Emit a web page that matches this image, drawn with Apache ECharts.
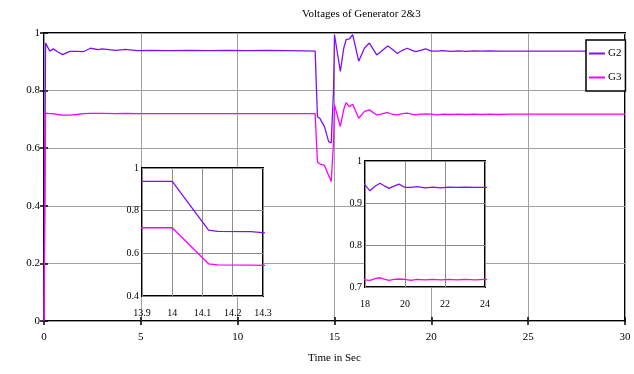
<!DOCTYPE html>
<html>
<head>
<meta charset="utf-8">
<script src="https://cdn.jsdelivr.net/npm/echarts@6/dist/echarts.min.js"></script>
<style>
  html, body { margin: 0; padding: 0; background: #fff; }
  #chart { width: 634px; height: 374px; }
</style>
</head>
<body>
<div id="chart"></div>
<script>
// Simulation time (s)
const times = [0, 0.08, 0.17, 0.3, 0.48, 0.7, 0.96, 1.34, 1.7, 2.03, 2.4, 2.8, 3.0, 3.7, 4.2, 4.8,
  5.5, 6.5, 7.5, 8.5, 9.5, 10.5, 11.5, 12.5, 13.5, 14.0, 14.12, 14.15, 14.26, 14.48, 14.7, 14.83,
  14.9, 14.95, 15.0, 15.1, 15.3, 15.48, 15.6, 15.77, 15.94, 16.25, 16.55, 16.8, 17.18, 17.75,
  18.0, 18.25, 18.5, 18.75, 19.0, 19.2, 19.45, 19.7, 20.0, 20.3, 20.6, 21.0, 21.4, 21.8, 22.2,
  22.6, 23.0, 23.5, 24.0, 26.0, 28.0, 30.0];

// Generator 2 terminal voltage (pu)
const g2 = [0, 0.965, 0.962, 0.937, 0.945, 0.935, 0.925, 0.936, 0.936, 0.935, 0.947, 0.942, 0.945, 0.94, 0.943, 0.939,
  0.94, 0.939, 0.94, 0.939, 0.94, 0.939, 0.94, 0.939, 0.938, 0.937, 0.709, 0.703, 0.702, 0.675, 0.623, 0.618,
  0.62, 0.8, 0.994, 0.989, 0.867, 0.948, 0.977, 0.98, 0.994, 0.902, 0.948, 0.965, 0.924, 0.955,
  0.943, 0.929, 0.94, 0.947, 0.94, 0.935, 0.94, 0.945, 0.937, 0.937, 0.939, 0.936, 0.938, 0.936, 0.938,
  0.937, 0.938, 0.937, 0.937, 0.937, 0.937, 0.937];

// Generator 3 terminal voltage (pu)
const g3 = [0, 0.722, 0.722, 0.72, 0.72, 0.717, 0.715, 0.715, 0.717, 0.72, 0.721, 0.721, 0.721, 0.72, 0.721, 0.72,
  0.72, 0.72, 0.72, 0.72, 0.72, 0.72, 0.72, 0.72, 0.72, 0.72, 0.551, 0.546, 0.545, 0.54, 0.505, 0.484,
  0.482, 0.62, 0.75, 0.745, 0.675, 0.735, 0.758, 0.744, 0.753, 0.704, 0.728, 0.733, 0.715, 0.724,
  0.717, 0.716, 0.72, 0.722, 0.718, 0.716, 0.718, 0.719, 0.718, 0.716, 0.718, 0.717, 0.718, 0.717, 0.718,
  0.717, 0.718, 0.717, 0.718, 0.718, 0.718, 0.718];

const seriesNames = ['G2', 'G3'];
const seriesColors = ['#7f10f5', '#ff00ff'];

// Axis ranges: main view and the two zoomed insets
const mainX = [0, 30, 5];
const mainY = [0, 1, 0.2];
const zoomFaultX = [13.9, 14.3, 0.1];
const zoomFaultY = [0.4, 1, 0.2];
const zoomSettleX = [18, 24, 2];
const zoomSettleY = [0.7, 1, 0.1];

const FONT = '"Liberation Serif", "Times New Roman", serif';
const pairs = vals => times.map((t, i) => [t, vals[i]]);
const fmt = v => String(+v.toFixed(2));

const chart = echarts.init(document.getElementById('chart'), null, { renderer: 'canvas' });

function valueAxis(range, extra) {
  return Object.assign({
    type: 'value', min: range[0], max: range[1], interval: range[2],
    axisLine: { show: false },
    axisTick: { show: false },
    splitLine: { show: true, lineStyle: { color: '#a0a0a0', width: 1 } },
    axisLabel: { fontFamily: FONT, fontSize: 11, color: '#000', formatter: fmt }
  }, extra);
}

const tickOnly = { show: true, inside: true, length: 4, lineStyle: { color: '#000', width: 1.5 } };
const noLabel = { show: false };
const insetSplit = { show: true, lineStyle: { color: '#8c8c8c', width: 1 } };

const insetGridStyle = { show: true, backgroundColor: '#fff', borderColor: '#000', borderWidth: 2, z: 3 };

const option = {
  backgroundColor: '#fff',
  animation: false,
  title: {
    text: 'Voltages of Generator 2&3',
    left: 297, top: 4,
    textStyle: { fontFamily: FONT, fontSize: 11, fontWeight: 'normal', color: '#000' }
  },
  legend: {
    data: seriesNames,
    orient: 'vertical',
    left: 586, top: 40,
    padding: [8, 4, 8, 3],
    itemGap: 13,
    itemWidth: 16, itemHeight: 2,
    icon: 'rect',
    borderColor: '#000', borderWidth: 1.5,
    backgroundColor: '#fff',
    textStyle: { fontFamily: FONT, fontSize: 11, color: '#000', padding: [0, 0, 0, -2] },
    z: 10
  },
  grid: [
    { left: 44, top: 33, width: 581, height: 288, show: true, borderColor: '#000', borderWidth: 2, z: 0 },
    Object.assign({ left: 142, top: 168, width: 121, height: 128 }, insetGridStyle),
    Object.assign({ left: 365, top: 161, width: 120, height: 126 }, insetGridStyle)
  ],
  xAxis: [
    valueAxis(mainX, {
      gridIndex: 0, axisTick: tickOnly,
      name: 'Time in Sec', nameLocation: 'middle', nameGap: 32,
      nameTextStyle: { fontFamily: FONT, fontSize: 11, color: '#000' },
      axisLabel: { fontFamily: FONT, fontSize: 11, color: '#000', margin: 11, formatter: fmt }
    }),
    valueAxis(mainX, { gridIndex: 0, position: 'top', axisTick: tickOnly, axisLabel: noLabel, splitLine: { show: false } }),
    valueAxis(zoomFaultX, {
      gridIndex: 1, z: 4, splitLine: insetSplit,
      axisLabel: { fontFamily: FONT, fontSize: 10, color: '#000', margin: 12, formatter: fmt }
    }),
    valueAxis(zoomSettleX, {
      gridIndex: 2, z: 4, splitLine: insetSplit,
      axisLabel: { fontFamily: FONT, fontSize: 10, color: '#000', margin: 12, formatter: fmt }
    })
  ],
  yAxis: [
    valueAxis(mainY, {
      gridIndex: 0, axisTick: tickOnly,
      axisLabel: { fontFamily: FONT, fontSize: 11, color: '#000', margin: 4, formatter: fmt }
    }),
    valueAxis(mainY, { gridIndex: 0, position: 'right', axisTick: tickOnly, axisLabel: noLabel, splitLine: { show: false } }),
    valueAxis(zoomFaultY, {
      gridIndex: 1, z: 4, splitLine: insetSplit,
      axisLabel: { fontFamily: FONT, fontSize: 10, color: '#000', margin: 3, formatter: fmt }
    }),
    valueAxis(zoomSettleY, {
      gridIndex: 2, z: 4, splitLine: insetSplit,
      axisLabel: { fontFamily: FONT, fontSize: 10, color: '#000', margin: 3, formatter: fmt }
    })
  ],
  series: []
};

// Same traces drawn in the main plot (axis 0) and both insets (axes 2 and 3)
const valueSets = [g2, g3];
[[0, 0, 2], [2, 2, 5], [3, 3, 5]].forEach(([xi, yi, z]) => {
  seriesNames.forEach((name, k) => {
    option.series.push({
      name, type: 'line',
      xAxisIndex: xi, yAxisIndex: yi,
      data: pairs(valueSets[k]),
      symbol: 'none', clip: true, z,
      lineStyle: { color: seriesColors[k], width: 1.3 },
      itemStyle: { color: seriesColors[k] }
    });
  });
});

chart.setOption(option);
</script>
</body>
</html>
